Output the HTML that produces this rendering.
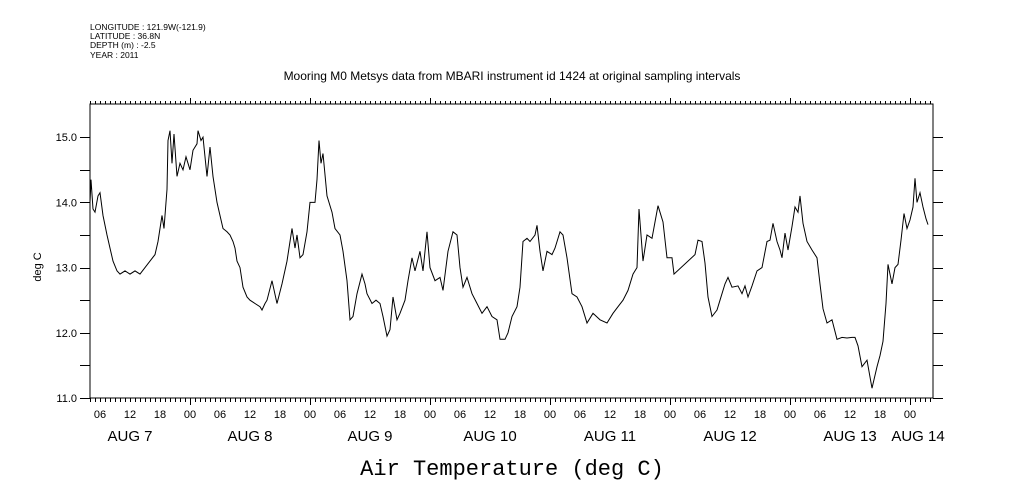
<!DOCTYPE html>
<html><head><meta charset="utf-8"><style>
body{margin:0;background:#fff;}
svg{display:block;font-family:"Liberation Sans",sans-serif;}
</style></head><body>
<svg id="chart" width="1009" height="504" viewBox="0 0 1009 504">
<g font-size="8.5" fill="#000">
<text x="90" y="30">LONGITUDE : 121.9W(-121.9)</text>
<text x="90" y="39">LATITUDE : 36.8N</text>
<text x="90" y="48">DEPTH (m) : -2.5</text>
<text x="90" y="58">YEAR : 2011</text>
</g>
<text x="512" y="80" text-anchor="middle" font-size="12">Mooring M0 Metsys data from MBARI instrument id 1424 at original sampling intervals</text>
<text x="512" y="475" text-anchor="middle" font-size="22" font-family="Liberation Mono, monospace">Air Temperature (deg C)</text>
<text transform="translate(41,267) rotate(-90)" text-anchor="middle" font-size="11">deg C</text>
<g id="axes"></g>
<g id="ticks"></g>
<g id="labels"></g>
<path id="series" fill="none" stroke="#000" stroke-width="1"/>
</svg>
<script>
const hours=[4,4.2,4.6,5,5.6,6,6.6,7.4,8,8.6,9.4,10,11,12,13,14,15,16,17,17.6,18.4,18.8,19.4,19.6,20,20.4,20.8,21.4,22,22.6,23.2,24,24.6,25.4,25.6,26.2,26.6,27,27.4,28,28.6,29.4,30,30.6,31.4,32,32.6,33,33.4,34,34.6,35.4,36,37,38,38.4,39,39.4,40.4,41.4,42.4,43.4,44.4,45,45.4,46,46.6,47.4,48,49,49.4,49.8,50.2,50.6,51.4,52.4,53,54,54.6,55.4,56,56.6,57.4,58.4,59,59.4,60.4,61.2,62,
62.6,63.4,64,64.6,65.4,66,67,67.6,68.4,69,70,70.6,71.4,72,73,74,74.6,75.6,76.6,77.4,78,78.6,79.4,80.4,81.4,82.4,83.4,84.4,85.4,86,87,87.6,88.4,89.4,90,90.6,91.4,92,93,93.4,94,94.6,95.4,96.4,97,98,98.6,99.4,100.4,101.4,102.4,103.4,104.6,106,107.4,108.6,109.6,110.6,111.6,112.6,113.4,113.8,114.6,115.4,116.4,117,117.6,118.6,119.4,120.4,120.8,
125,125.6,126.4,127,127.6,128.4,129.4,130,131,131.6,132.4,133.6,134.4,135,135.6,136.4,137.4,138.4,139.4,140,140.6,141.4,142,142.4,143,143.6,144.4,145,145.6,146,146.6,147.4,148.4,149.4,150,150.6,151.4,152.4,153.4,154.4,155.4,156.4,157,157.6,158.4,159.4,160.4,161.4,162,162.6,163.2,163.6,164.4,165,165.6,166.2,166.8,167.4,168,168.6,169,169.4,170,170.6,171.2,171.6];
const temps=[14.0,14.35,13.9,13.85,14.1,14.15,13.8,13.5,13.3,13.1,12.95,12.9,12.95,12.9,12.95,12.9,13.0,13.1,13.2,13.4,13.8,13.6,14.2,14.95,15.1,14.6,15.05,14.4,14.6,14.5,14.7,14.5,14.8,14.9,15.1,14.95,15.0,14.7,14.4,14.85,14.4,14.0,13.8,13.6,13.55,13.5,13.4,13.3,13.1,13.0,12.7,12.55,12.5,12.45,12.4,12.35,12.45,12.5,12.8,12.45,12.75,13.1,13.6,13.3,13.5,13.15,13.2,13.55,14.0,14.0,14.35,14.95,14.6,14.75,14.1,13.85,13.6,13.5,13.25,12.8,12.2,12.25,12.6,12.9,12.75,12.6,12.45,12.5,12.45,
12.25,11.95,12.05,12.55,12.2,12.3,12.5,12.8,13.15,12.95,13.25,12.95,13.55,13.0,12.8,12.85,12.65,13.25,13.55,13.5,13.0,12.7,12.85,12.6,12.45,12.3,12.4,12.25,12.2,11.9,11.9,12.0,12.25,12.4,12.7,13.4,13.45,13.4,13.5,13.65,13.25,12.95,13.25,13.2,13.3,13.55,13.5,13.15,12.6,12.55,12.4,12.15,12.3,12.2,12.15,12.3,12.4,12.5,12.65,12.9,13.0,13.9,13.1,13.5,13.45,13.7,13.95,13.7,13.15,13.15,12.9,
13.2,13.42,13.4,13.07,12.55,12.25,12.35,12.5,12.75,12.85,12.7,12.72,12.6,12.72,12.55,12.72,12.95,13.0,13.4,13.42,13.68,13.4,13.27,13.15,13.53,13.27,13.63,13.93,13.85,14.1,13.68,13.4,13.27,13.15,12.75,12.37,12.15,12.2,11.9,11.93,11.92,11.93,11.93,11.8,11.48,11.58,11.15,11.48,11.65,11.87,12.45,13.05,12.75,13.0,13.05,13.42,13.83,13.6,13.73,13.93,14.37,14.0,14.15,13.93,13.75,13.66];
const yTickLabels=["11.0","12.0","13.0","14.0","15.0"];
const hourLabels=["06","12","18","00"];
const dayLabels=["AUG  7","AUG  8","AUG  9","AUG 10","AUG 11","AUG 12","AUG 13","AUG 14"];

const L=90,R=933,T=104,B=398;
const hMin=4,hMax=172.6,yMin=11,yMax=15.51;
function xs(h){return L+(h-hMin)*(R-L)/(hMax-hMin);}
function ys(v){return B-(v-yMin)*(B-T)/(yMax-yMin);}
const NS="http://www.w3.org/2000/svg";
function mk(tag,attrs,parent){const e=document.createElementNS(NS,tag);for(const k in attrs)e.setAttribute(k,attrs[k]);parent.appendChild(e);return e;}
const axes=document.getElementById('axes'),ticks=document.getElementById('ticks'),labels=document.getElementById('labels');
const frame=mk('rect',{x:L,y:T,width:R-L,height:B-T,fill:'none',stroke:'#000','stroke-width':1},axes);


let td='';
for(let h=Math.ceil(hMin);h<=hMax;h++){
  const x=Math.round(xs(h))+0.5;const maj=(h%24===0);
  td+=`M${x},${T}v${maj?-6:-3}M${x},${B}v${maj?7:4}`;
}
for(let v=11;v<=15.01;v+=0.5){const y=Math.round(ys(v))+0.5;td+=`M${L},${y}h-10M${R},${y}h10`;}
const tp=mk('path',{d:td,stroke:'#000','stroke-width':1,fill:'none'},ticks);


yTickLabels.forEach(s=>{
  const t=mk('text',{x:L-13,y:ys(parseFloat(s))+4,'text-anchor':'end','font-size':11},labels);
  t.textContent=s;
  
  
});
for(let h=6;h<=hMax;h+=6){
  const t=mk('text',{x:xs(h),y:418,'text-anchor':'middle','font-size':11},labels);
  t.textContent=hourLabels[(h/6-1)%4];
  
  
}
dayLabels.forEach((s,i)=>{
  let h=i*24+12; if(i===7)h=169.6;
  const t=mk('text',{x:xs(h),y:441,'text-anchor':'middle','font-size':15,'xml:space':'preserve'},labels);
  t.textContent=s;
  
  
});
let d='';
hours.forEach((h,i)=>{d+=(i?'L':'M')+xs(h).toFixed(1)+','+ys(temps[i]).toFixed(1);});
document.getElementById('series').setAttribute('d',d);
</script>
</body></html>
